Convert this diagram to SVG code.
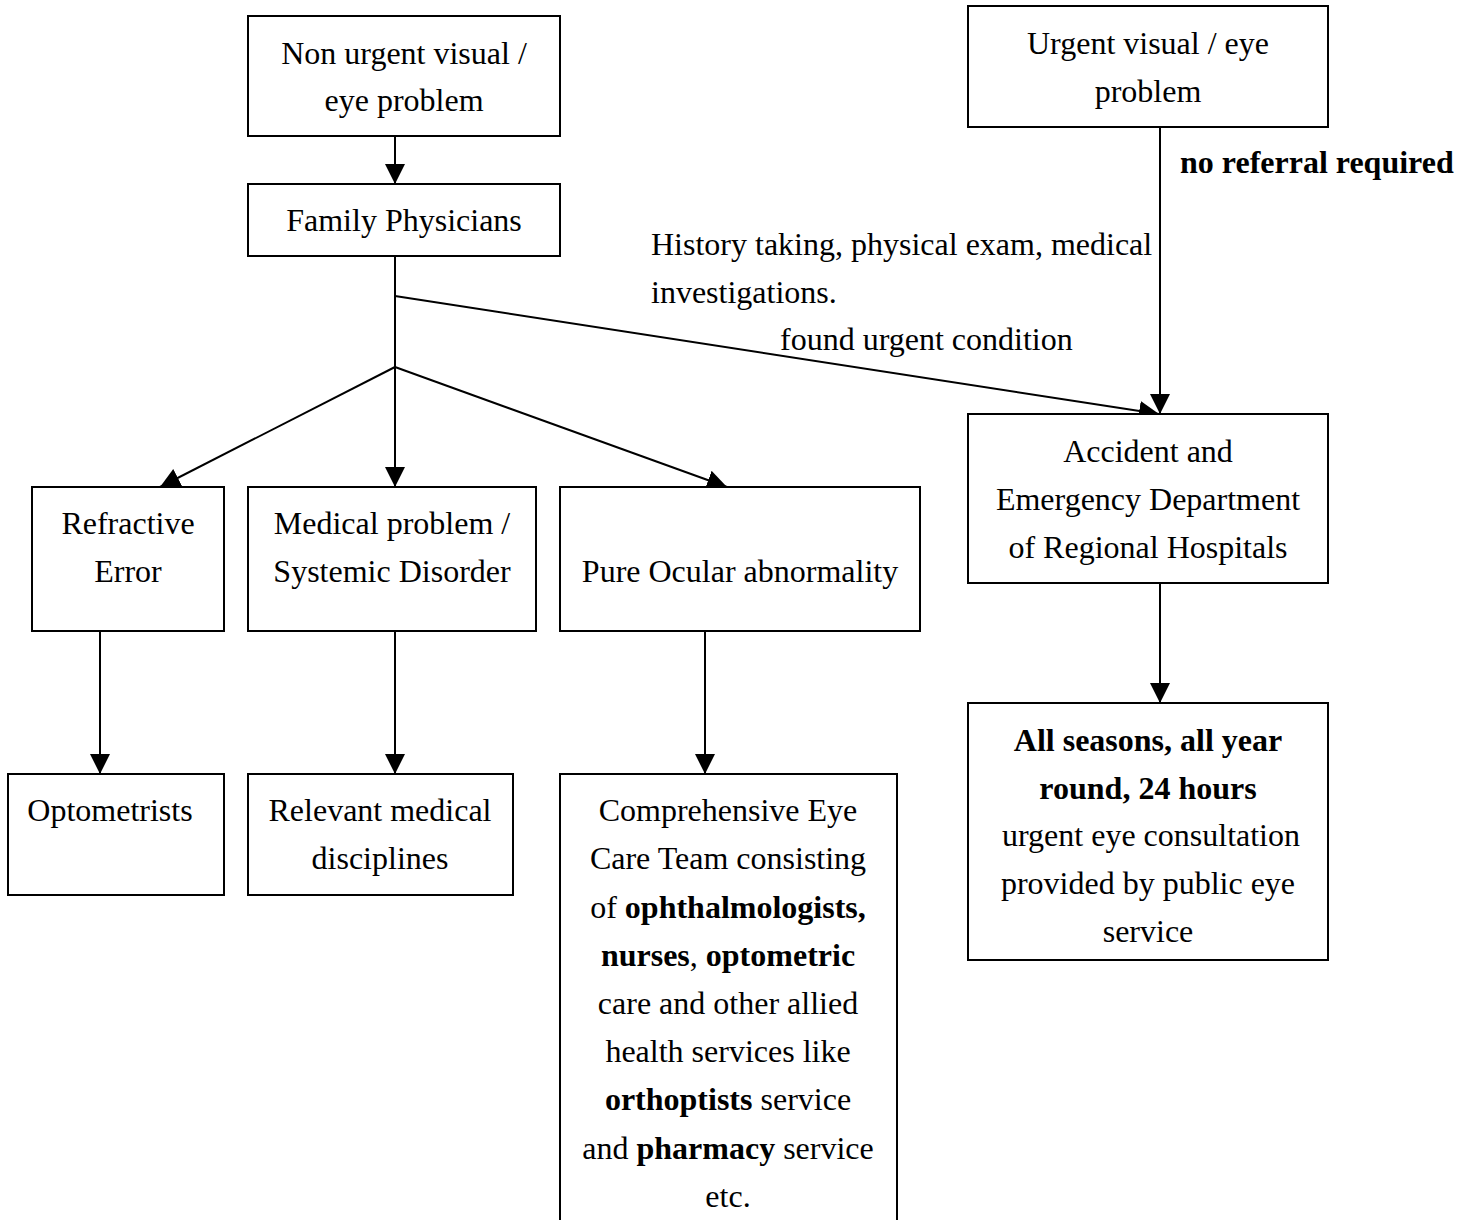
<svg xmlns="http://www.w3.org/2000/svg" width="1471" height="1220" viewBox="0 0 1471 1220">
<defs>
<marker id="ah" viewBox="0 0 20 20" refX="20" refY="10" markerWidth="20" markerHeight="20" markerUnits="userSpaceOnUse" orient="auto">
<path d="M0,0 L20,10 L0,20 Z" fill="#000"/>
</marker>
<style>
rect{fill:#fff;stroke:#000;stroke-width:2}
text{font-family:"Liberation Serif","Times New Roman",serif;font-size:32px;fill:#000}
.c{text-anchor:middle}
.b{font-weight:bold}
#connectors line,#connectors path{stroke:#000;stroke-width:2;fill:none}
</style>
</defs>
<rect x="0" y="0" width="1471" height="1220" style="fill:#fff;stroke:none"/>
<g id="connectors">
<line x1="395" y1="136" x2="395" y2="184" marker-end="url(#ah)"/>
<line x1="395" y1="256" x2="395" y2="367"/>
<line x1="395" y1="367" x2="395" y2="487" marker-end="url(#ah)"/>
<line x1="395" y1="367" x2="160" y2="487" marker-end="url(#ah)"/>
<line x1="395" y1="367" x2="727" y2="487" marker-end="url(#ah)"/>
<line x1="395" y1="296" x2="1159" y2="414" marker-end="url(#ah)"/>
<line x1="1160" y1="127" x2="1160" y2="414" marker-end="url(#ah)"/>
<line x1="100" y1="631" x2="100" y2="774" marker-end="url(#ah)"/>
<line x1="395" y1="631" x2="395" y2="774" marker-end="url(#ah)"/>
<line x1="705" y1="631" x2="705" y2="774" marker-end="url(#ah)"/>
<line x1="1160" y1="583" x2="1160" y2="703" marker-end="url(#ah)"/>
</g>
<g id="labels">
<text class="b" x="1180" y="173">no referral required</text>
<text x="651" y="255">History taking, physical exam, medical</text>
<text x="651" y="303">investigations.</text>
<text x="780" y="350">found urgent condition</text>
</g>
<g id="n-nonurgent">
<rect x="248" y="16" width="312" height="120"/>
<text class="c" x="404" y="64">Non urgent visual /</text>
<text class="c" x="404" y="111">eye problem</text>
</g>
<g id="n-family">
<rect x="248" y="184" width="312" height="72"/>
<text class="c" x="404" y="231">Family Physicians</text>
</g>
<g id="n-urgent">
<rect x="968" y="6" width="360" height="121"/>
<text class="c" x="1148" y="54">Urgent visual / eye</text>
<text class="c" x="1148" y="102">problem</text>
</g>
<g id="n-refractive">
<rect x="32" y="487" width="192" height="144"/>
<text class="c" x="128" y="534">Refractive</text>
<text class="c" x="128" y="582">Error</text>
</g>
<g id="n-medical">
<rect x="248" y="487" width="288" height="144"/>
<text class="c" x="392" y="534">Medical problem /</text>
<text class="c" x="392" y="582">Systemic Disorder</text>
</g>
<g id="n-ocular">
<rect x="560" y="487" width="360" height="144"/>
<text class="c" x="740" y="582">Pure Ocular abnormality</text>
</g>
<g id="n-ae">
<rect x="968" y="414" width="360" height="169"/>
<text class="c" x="1148" y="462">Accident and</text>
<text class="c" x="1148" y="510">Emergency Department</text>
<text class="c" x="1148" y="558">of Regional Hospitals</text>
</g>
<g id="n-optometrists">
<rect x="8" y="774" width="216" height="121"/>
<text class="c" x="110" y="821">Optometrists</text>
</g>
<g id="n-relevant">
<rect x="248" y="774" width="265" height="121"/>
<text class="c" x="380" y="821">Relevant medical</text>
<text class="c" x="380" y="869">disciplines</text>
</g>
<g id="n-comprehensive">
<rect x="560" y="774" width="337" height="470"/>
<text class="c" x="728" y="821">Comprehensive Eye</text>
<text class="c" x="728" y="869">Care Team consisting</text>
<text class="c" x="728" y="918">of <tspan class="b">ophthalmologists,</tspan></text>
<text class="c" x="728" y="966"><tspan class="b">nurses</tspan>, <tspan class="b">optometric</tspan></text>
<text class="c" x="728" y="1014">care and other allied</text>
<text class="c" x="728" y="1062">health services like</text>
<text class="c" x="728" y="1110"><tspan class="b">orthoptists</tspan> service</text>
<text class="c" x="728" y="1159">and <tspan class="b">pharmacy</tspan> service</text>
<text class="c" x="728" y="1207">etc.</text>
</g>
<g id="n-allseasons">
<rect x="968" y="703" width="360" height="257"/>
<text class="c b" x="1148" y="751">All seasons, all year</text>
<text class="c b" x="1148" y="799">round, 24 hours</text>
<text class="c" x="1151" y="846">urgent eye consultation</text>
<text class="c" x="1148" y="894">provided by public eye</text>
<text class="c" x="1148" y="942">service</text>
</g>
</svg>
